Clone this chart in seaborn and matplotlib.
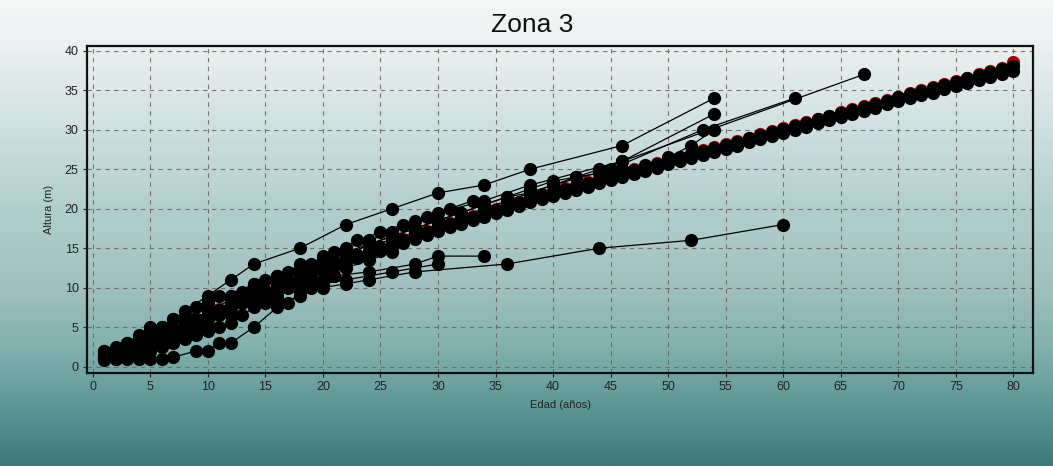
import numpy as np
import pandas as pd
import matplotlib
matplotlib.use("Agg")
import matplotlib.pyplot as plt
import seaborn as sns
from matplotlib.colors import LinearSegmentedColormap

sns.set_theme(style="white")
plt.rcParams['font.family'] = ['Liberation Sans', 'DejaVu Sans']

# ---- data ----
age_main = list(range(1, 81))
height_main_a = [1.0, 1.5, 2.1, 2.7, 3.3, 3.9, 4.5, 5.1, 5.7, 6.3, 6.9, 7.5, 8.1, 8.7, 9.3, 9.9,
                 10.5, 11.0, 11.6, 12.1, 12.7, 13.2, 13.7, 14.2, 14.7, 15.2, 15.7, 16.2, 16.7, 17.2,
                 17.7, 18.1, 18.6, 19.0, 19.5, 19.9, 20.3, 20.8, 21.2, 21.6, 22.0, 22.4, 22.8, 23.2,
                 23.6, 24.0, 24.4, 24.8, 25.2, 25.6, 26.0, 26.4, 26.8, 27.2, 27.6, 28.0, 28.4, 28.8,
                 29.2, 29.6, 30.0, 30.4, 30.8, 31.2, 31.6, 32.0, 32.4, 32.8, 33.2, 33.6, 34.0, 34.4,
                 34.7, 35.1, 35.5, 35.9, 36.3, 36.7, 37.0, 37.4]
height_main_b = [1.2, 1.8, 2.4, 3.0, 3.6, 4.2, 4.8, 5.4, 6.0, 6.6, 7.2, 7.8, 8.4, 9.0, 9.6, 10.2,
                 10.8, 11.4, 12.0, 12.5, 13.1, 13.6, 14.1, 14.6, 15.1, 15.6, 16.1, 16.6, 17.1, 17.6,
                 18.1, 18.6, 19.0, 19.5, 19.9, 20.4, 20.8, 21.3, 21.7, 22.1, 22.5, 22.9, 23.3, 23.7,
                 24.1, 24.5, 24.9, 25.3, 25.7, 26.1, 26.5, 26.9, 27.3, 27.7, 28.1, 28.5, 28.9, 29.3,
                 29.7, 30.1, 30.5, 30.9, 31.3, 31.7, 32.1, 32.5, 32.9, 33.3, 33.7, 34.1, 34.5, 34.9,
                 35.3, 35.7, 36.1, 36.5, 36.9, 37.3, 37.7, 38.1]
height_main_red = [1.3, 1.9, 2.5, 3.1, 3.7, 4.3, 4.9, 5.5, 6.1, 6.7, 7.3, 7.9, 8.5, 9.1, 9.7, 10.3,
                   10.9, 11.5, 12.1, 12.6, 13.2, 13.7, 14.2, 14.7, 15.2, 15.7, 16.2, 16.7, 17.2, 17.7,
                   18.2, 18.7, 19.1, 19.6, 20.0, 20.5, 20.9, 21.4, 21.8, 22.2, 22.6, 23.0, 23.4, 23.8,
                   24.2, 24.6, 25.0, 25.4, 25.8, 26.2, 26.6, 27.0, 27.4, 27.8, 28.2, 28.6, 29.0, 29.4,
                   29.8, 30.2, 30.6, 31.0, 31.4, 31.8, 32.2, 32.6, 33.0, 33.4, 33.8, 34.2, 34.6, 35.0,
                   35.4, 35.8, 36.2, 36.6, 37.0, 37.4, 37.8, 38.6]

age_s1 = [1, 3, 5, 7, 10, 12, 14, 18, 22, 26, 30, 34, 38, 46, 54]
height_s1 = [2.0, 3.0, 4.5, 6.0, 9.0, 11.0, 13.0, 15.0, 18.0, 20.0, 22.0, 23.0, 25.0, 28.0, 34.0]

age_s2 = [1, 3, 5, 7, 9, 10, 12, 14, 16, 18, 20, 22, 24, 26, 28, 30, 34, 38, 46, 54]
height_s2 = [1.0, 1.5, 2.5, 3.5, 5.0, 6.0, 7.5, 9.5, 11.0, 12.5, 13.5, 15.0, 16.0, 17.0,
             18.5, 19.5, 21.0, 23.0, 26.0, 32.0]

age_s3 = [2, 4, 6, 8, 10, 12, 14, 16, 18, 20, 22, 24, 26, 28, 30, 32, 34, 36, 38, 40, 45, 53, 61]
height_s3 = [2.0, 3.0, 4.0, 5.0, 7.0, 8.0, 10.0, 11.0, 12.0, 13.0, 14.0, 15.5, 16.5, 17.5,
             18.5, 19.5, 20.5, 21.5, 22.0, 23.0, 25.0, 30.0, 34.0]

age_s4 = [1, 2, 4, 6, 8, 10, 12, 14, 16, 18, 20, 22, 24, 26, 28, 30, 32, 34, 36, 38, 40, 42, 44, 46, 67]
height_s4 = [1.5, 2.0, 3.5, 4.5, 5.5, 7.0, 8.5, 10.0, 11.5, 12.0, 13.0, 14.0, 15.5, 16.0,
             17.0, 18.0, 19.0, 20.0, 21.0, 22.0, 23.0, 24.0, 25.0, 26.0, 37.0]

age_s5 = [1, 2, 3, 4, 5, 6, 7, 9, 10, 11, 12, 14, 16, 18, 20, 22, 24, 28, 36, 44, 52, 60]
height_s5 = [0.8, 1.0, 1.0, 1.0, 1.0, 1.0, 1.2, 2.0, 2.0, 3.0, 3.0, 5.0, 7.5, 9.0, 10.0,
             10.5, 11.0, 12.0, 13.0, 15.0, 16.0, 18.0]

age_s6 = [1, 3, 5, 7, 9, 11, 13, 15, 17, 19, 21, 24, 28, 30, 34]
height_s6 = [1.5, 2.5, 3.5, 4.0, 5.0, 6.5, 8.0, 9.0, 10.0, 11.0, 11.5, 12.0, 13.0, 14.0, 14.0]

age_s7 = [2, 4, 6, 8, 10, 12, 14, 16, 18, 20, 22, 26, 30]
height_s7 = [1.5, 2.5, 3.0, 4.0, 5.0, 6.5, 8.0, 9.0, 10.0, 10.5, 11.0, 12.0, 13.0]

age_s8 = [2, 4, 6, 8, 10, 12, 14, 16, 18, 20, 22, 24, 26, 28, 30, 32, 34, 36, 38, 40, 42, 44, 46, 48, 50, 52, 54]
height_s8 = [2.0, 3.5, 5.0, 6.0, 8.0, 9.0, 10.5, 11.5, 12.5, 13.5, 14.5, 15.5, 16.5, 17.5,
             18.5, 19.5, 20.5, 21.5, 22.5, 23.5, 24.0, 24.5, 25.0, 25.5, 26.5, 28.0, 30.0]

age_s9 = [1, 2, 3, 4, 5, 6, 7, 8, 9, 10, 11, 12, 13, 14, 15, 16, 17, 18, 19, 20, 21, 23, 25, 27, 29, 31, 33]
height_s9 = [2.0, 2.5, 3.0, 4.0, 5.0, 5.0, 6.0, 7.0, 7.5, 8.5, 9.0, 9.0, 9.5, 10.5, 11.0, 11.5,
             12.0, 13.0, 13.0, 14.0, 14.5, 16.0, 17.0, 18.0, 19.0, 20.0, 21.0]

age_s10 = [1, 2, 3, 4, 5, 6, 7, 8, 9, 10, 11, 12, 13, 14, 15, 16, 17, 18, 19, 20, 21, 22, 24, 26]
height_s10 = [1.0, 1.0, 1.5, 2.0, 2.0, 2.5, 3.0, 3.5, 4.0, 4.5, 5.0, 5.5, 6.5, 7.5, 8.0, 8.5,
              8.0, 9.5, 10.0, 11.0, 11.5, 12.5, 13.5, 14.5]

black_series = {
    "A": (age_main, height_main_a),
    "B": (age_main, height_main_b),
    "S1": (age_s1, height_s1),
    "S2": (age_s2, height_s2),
    "S3": (age_s3, height_s3),
    "S4": (age_s4, height_s4),
    "S5": (age_s5, height_s5),
    "S6": (age_s6, height_s6),
    "S7": (age_s7, height_s7),
    "S8": (age_s8, height_s8),
    "S9": (age_s9, height_s9),
    "S10": (age_s10, height_s10),
}

x_ticks = list(range(0, 81, 5))
y_ticks = list(range(0, 41, 5))

rows = []
for name, (xs, ys) in black_series.items():
    for x, y in zip(xs, ys):
        rows.append({"serie": name, "edad": x, "altura": y})
df_black = pd.DataFrame(rows)
df_red = pd.DataFrame({"serie": "R", "edad": age_main, "altura": height_main_red})

# ---- figure ----
W, H = 1053, 466
fig = plt.figure(figsize=(W / 100, H / 100), dpi=100)

# gradient background
bg = fig.add_axes([0, 0, 1, 1], zorder=-10)
cmap = LinearSegmentedColormap.from_list(
    "bg",
    [(0.0, "#f6f7f7"), (0.08, "#eef2f2"), (0.25, "#d3e2e2"), (0.45, "#b0cecd"),
     (0.62, "#a0c0bf"), (0.75, "#80b0ad"), (0.88, "#5c9694"), (1.0, "#3d7978")])
grad = np.linspace(0, 1, 256).reshape(-1, 1)
bg.imshow(grad, aspect="auto", cmap=cmap, extent=[0, 1, 0, 1], origin="upper")
bg.set_axis_off()

ax = fig.add_axes([87 / W, 1 - 373 / H, (1033 - 87) / W, (373 - 46) / H])
ax.set_facecolor("none")

sns.lineplot(data=df_red, x="edad", y="altura", units="serie", estimator=None,
             color="#b00000", marker="o", markersize=9.5, markeredgewidth=0,
             linewidth=1.0, ax=ax, zorder=2, legend=False)
sns.lineplot(data=df_black, x="edad", y="altura", units="serie", estimator=None,
             color="black", marker="o", markersize=9.5, markeredgewidth=0,
             linewidth=0.9, ax=ax, zorder=3, legend=False)

ax.set_xlim(-0.5, 81.7)
ax.set_ylim(-0.8, 40.6)
ax.set_xticks(x_ticks)
ax.set_yticks(y_ticks)
ax.tick_params(axis="both", labelsize=9, length=3, width=0.8, colors="#222222",
               direction="out", bottom=True, left=True, pad=3)
ax.grid(True, linestyle=(0, (4, 4)), color="#6a5f5f", linewidth=0.8, alpha=0.85)
for s in ax.spines.values():
    s.set_color("#111111")
    s.set_linewidth(1.6)

ax.set_xlabel("Edad (años)", fontsize=8, color="#222222", labelpad=5)
ax.set_ylabel("Altura (m)", fontsize=8, color="#222222", labelpad=8)
fig.suptitle("Zona 3", fontsize=19, color="#111111", x=0.505, y=1 - 25 / H, va="center")

fig.savefig("out.png", dpi=100)
